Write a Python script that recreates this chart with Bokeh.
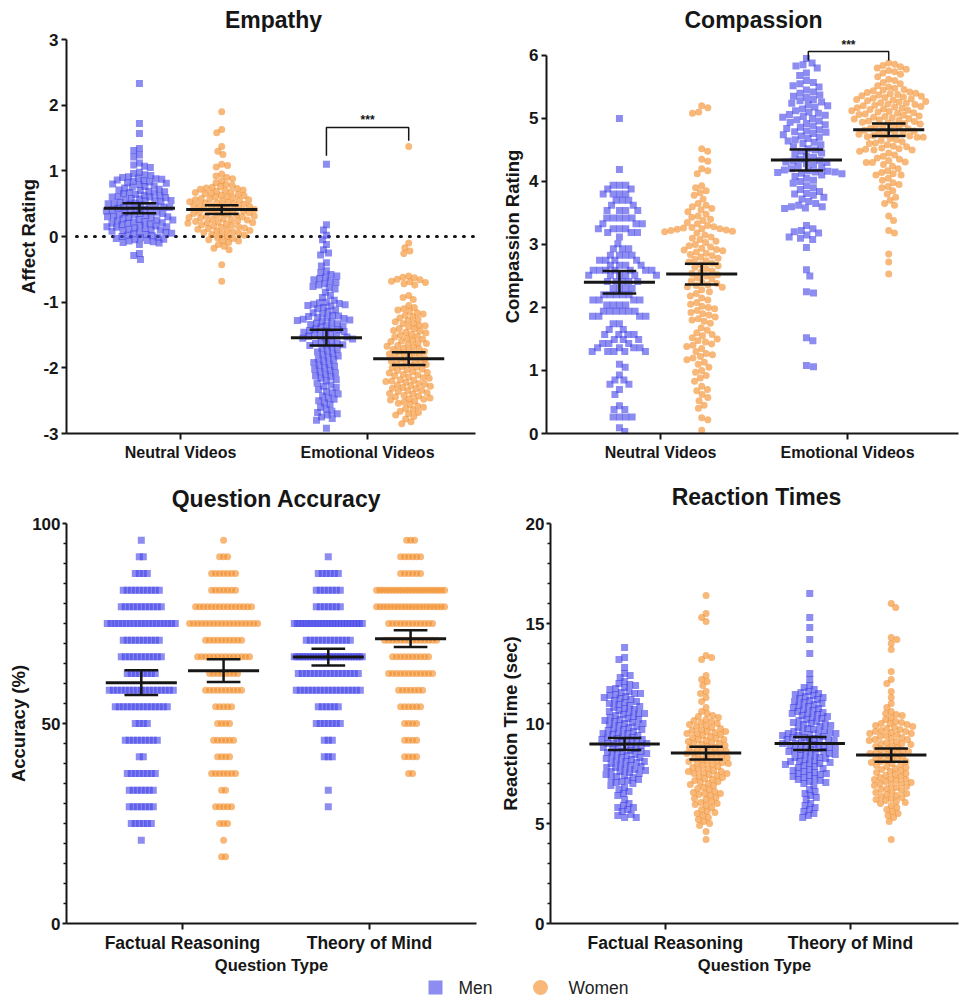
import math
import numpy as np
from bokeh.plotting import figure
from bokeh.layouts import column, row
from bokeh.models import Range1d, FixedTicker
from bokeh.embed import file_html
from bokeh.resources import INLINE
from bokeh.core.properties import value

FONT = "Liberation Sans"
INK = "#161616"
MEN_FILL = "#4646e8"
WOMEN_FILL = "#f28c28"
ALPHA = 0.62

video_labels = ["Neutral Videos", "Emotional Videos"]
question_labels = ["Factual Reasoning", "Theory of Mind"]
legend_labels = ["Men", "Women"]
panel_titles = ["Empathy", "Compassion", "Question Accuracy", "Reaction Times"]
emp_yticks = [-3, -2, -1, 0, 1, 2, 3]
comp_yticks = [0, 1, 2, 3, 4, 5, 6]
acc_yticks = [0, 50, 100]
rt_yticks = [0, 5, 10, 15, 20]

# ---------------- Empathy (Affect Rating) ----------------
emp_neu_men = [2.33, 1.72, 1.57, 1.34, 1.31, 1.24, 1.21, 1.12, 1.09, 1.07, 1.05,
               0.98, 0.96, 0.94, 0.93, 0.91, 0.90,
               0.89, 0.88, 0.87, 0.86, 0.85, 0.84, 0.83, 0.82, 0.81, 0.80,
               0.79, 0.77, 0.76, 0.75, 0.74, 0.72, 0.71, 0.70, 0.69, 0.68, 0.67, 0.66, 0.65, 0.64, 0.63, 0.62, 0.61, 0.60, 0.60,
               0.59, 0.58, 0.57, 0.56, 0.55, 0.55, 0.54, 0.53, 0.52, 0.51, 0.50, 0.50, 0.49, 0.48, 0.47, 0.46, 0.45, 0.45, 0.44, 0.43, 0.42, 0.41, 0.40, 0.40,
               0.39, 0.38, 0.37, 0.36, 0.35, 0.35, 0.34, 0.33, 0.32, 0.31, 0.30, 0.30, 0.29, 0.28, 0.27, 0.26, 0.25, 0.25, 0.24, 0.23, 0.22, 0.21, 0.20, 0.20,
               0.19, 0.18, 0.17, 0.16, 0.15, 0.15, 0.14, 0.13, 0.12, 0.11, 0.10, 0.10, 0.09, 0.08, 0.07, 0.06, 0.05, 0.04, 0.03, 0.02, 0.01, 0.00,
               -0.01, -0.02, -0.03, -0.04, -0.05, -0.06, -0.07, -0.08, -0.09, -0.10,
               -0.12, -0.26, -0.29, -0.35]
emp_neu_women = [1.90, 1.63, 1.58, 1.37, 1.30, 1.25, 1.10, 1.08, 1.06,
                 0.95, 0.92, 0.90, 0.88, 0.85, 0.82,
                 0.79, 0.78, 0.76, 0.75, 0.74, 0.73, 0.72, 0.71, 0.70, 0.69, 0.68, 0.67, 0.66, 0.65, 0.64, 0.63, 0.62, 0.61,
                 0.60, 0.59, 0.58, 0.57, 0.56, 0.56, 0.55, 0.54, 0.53, 0.52, 0.51, 0.51, 0.50, 0.49, 0.48, 0.47, 0.46, 0.46, 0.45, 0.44, 0.43, 0.42, 0.41, 0.41, 0.40,
                 0.39, 0.38, 0.37, 0.36, 0.36, 0.35, 0.34, 0.33, 0.32, 0.31, 0.31, 0.30, 0.29, 0.28, 0.27, 0.26, 0.26, 0.25, 0.24, 0.23, 0.22, 0.21, 0.21, 0.20,
                 0.19, 0.18, 0.17, 0.16, 0.15, 0.14, 0.13, 0.12, 0.11, 0.10, 0.09, 0.08, 0.07, 0.06, 0.05, 0.04, 0.03, 0.02,
                 0.00, -0.02, -0.03, -0.05, -0.06, -0.07, -0.09,
                 -0.12, -0.15, -0.18, -0.20, -0.43, -0.68]
emp_emo_men = [1.10, 0.18, 0.10, 0.02, -0.05, -0.12, -0.20, -0.25, -0.28, -0.40,
               -0.45, -0.52, -0.55, -0.58, -0.60, -0.62, -0.64, -0.66, -0.68, -0.70, -0.72, -0.74, -0.76, -0.78, -0.80,
               -0.85, -0.90, -0.93, -0.97,
               -1.00, -1.01, -1.02, -1.03, -1.04, -1.05, -1.06, -1.08, -1.10, -1.12, -1.14, -1.16, -1.18, -1.20,
               -1.21, -1.22, -1.23, -1.24, -1.25, -1.26, -1.27, -1.28, -1.29, -1.30, -1.32, -1.33, -1.34, -1.35, -1.36, -1.38, -1.40, -1.41, -1.42, -1.43, -1.44, -1.45, -1.46, -1.48, -1.49,
               -1.50, -1.51, -1.52, -1.53, -1.54, -1.55, -1.56, -1.58, -1.60, -1.62, -1.63, -1.64, -1.65, -1.66, -1.68, -1.70, -1.72, -1.74, -1.76, -1.78,
               -1.80, -1.82, -1.84, -1.86, -1.88, -1.90, -1.92, -1.94, -1.96, -1.98, -2.00, -2.02, -2.04, -2.06, -2.08, -2.10,
               -2.12, -2.14, -2.16, -2.18, -2.20, -2.23, -2.26, -2.28, -2.30, -2.33, -2.36, -2.38, -2.40,
               -2.43, -2.46, -2.48, -2.50, -2.53, -2.56, -2.60, -2.63, -2.66, -2.68, -2.70,
               -2.72, -2.75, -2.77, -2.80, -2.92]
emp_emo_women = [1.37, -0.10, -0.17, -0.22, -0.26,
                 -0.60, -0.62, -0.63, -0.65, -0.66, -0.68, -0.69, -0.70, -0.72, -0.74,
                 -0.90, -0.93, -0.96,
                 -1.05, -1.08, -1.10, -1.12, -1.14, -1.16, -1.18, -1.20, -1.22, -1.24, -1.26, -1.28,
                 -1.30, -1.32, -1.33, -1.35, -1.36, -1.38, -1.40, -1.41, -1.43, -1.44, -1.46, -1.47, -1.49, -1.50, -1.52, -1.53, -1.55, -1.56, -1.58, -1.59,
                 -1.60, -1.62, -1.63, -1.64, -1.66, -1.67, -1.68, -1.70, -1.71, -1.72, -1.74, -1.75, -1.76, -1.78, -1.79, -1.80, -1.82, -1.83, -1.84, -1.86, -1.87, -1.89,
                 -1.90, -1.91, -1.92, -1.94, -1.95, -1.96, -1.98, -1.99, -2.00, -2.02, -2.03, -2.04, -2.06, -2.07, -2.08, -2.10, -2.11, -2.12, -2.14, -2.15, -2.16, -2.18, -2.19,
                 -2.20, -2.21, -2.22, -2.24, -2.25, -2.26, -2.27, -2.28, -2.30, -2.31, -2.32, -2.34, -2.35, -2.36, -2.38, -2.39, -2.40, -2.42, -2.43, -2.44, -2.46, -2.47, -2.48, -2.49,
                 -2.50, -2.52, -2.54, -2.56, -2.58, -2.60, -2.62, -2.64, -2.66, -2.68, -2.70, -2.72, -2.74,
                 -2.78, -2.82, -2.85]
emp_means_men = [0.43, -1.54]
emp_sems_men = [0.077, 0.12]
emp_means_women = [0.41, -1.86]
emp_sems_women = [0.066, 0.097]

# ---------------- Compassion ----------------
comp_neu_men = [5.00, 4.19,
                3.94, 3.94, 3.94, 3.88, 3.88, 3.80, 3.80, 3.80, 3.80, 3.70, 3.70, 3.70,
                3.62, 3.62, 3.54, 3.54, 3.54, 3.54, 3.42, 3.42, 3.42, 3.42, 3.42,
                3.33, 3.33, 3.33, 3.25, 3.25, 3.25, 3.25, 3.19, 3.19, 3.19, 3.12, 3.01,
                2.93, 2.93, 2.93, 2.83, 2.83, 2.83, 2.83, 2.75, 2.75, 2.75, 2.75,
                2.67, 2.67, 2.67, 2.67, 2.59, 2.59, 2.59, 2.59, 2.59, 2.59, 2.59,
                2.51, 2.51, 2.51, 2.51, 2.51, 2.51, 2.41, 2.41, 2.41, 2.41, 2.41,
                2.30, 2.30, 2.30, 2.30, 2.20, 2.20, 2.20, 2.20, 2.20, 2.12, 2.12, 2.12, 2.12,
                2.04, 2.04, 2.04, 2.04, 1.94, 1.94, 1.94, 1.94, 1.94, 1.94, 1.86, 1.86, 1.86, 1.86,
                1.74, 1.74, 1.65, 1.65, 1.57, 1.57, 1.57, 1.57, 1.49, 1.49, 1.49, 1.43, 1.43, 1.43,
                1.36, 1.36, 1.36, 1.36, 1.30, 1.30, 1.30, 1.30, 1.30,
                1.10, 1.05, 0.93, 0.85, 0.85, 0.78, 0.78, 0.70, 0.62,
                0.44, 0.38, 0.38, 0.26, 0.26, 0.26, 0.26, 0.09, 0.03]
comp_neu_women = [5.20, 5.17, 5.10, 5.08,
                  4.52, 4.48, 4.35, 4.32, 4.20, 4.17, 4.12,
                  3.93, 3.90, 3.85, 3.82,
                  3.78, 3.72, 3.65, 3.62, 3.60, 3.57, 3.55, 3.52,
                  3.48, 3.45, 3.43, 3.40, 3.38, 3.35, 3.33, 3.30, 3.28, 3.27, 3.26, 3.25, 3.25, 3.24, 3.23, 3.22, 3.21, 3.20,
                  3.18, 3.15, 3.12, 3.10, 3.08, 3.05, 3.03, 3.00, 2.98, 2.96, 2.94, 2.92, 2.91, 2.90,
                  2.88, 2.86, 2.84, 2.82, 2.80, 2.78, 2.76, 2.74, 2.72, 2.70, 2.68, 2.66, 2.64, 2.62,
                  2.58, 2.56, 2.54, 2.52, 2.50, 2.47, 2.45, 2.42, 2.40, 2.38, 2.36, 2.35, 2.33, 2.32,
                  2.28, 2.25, 2.22, 2.18, 2.15, 2.12, 2.08, 2.05, 2.02, 2.00,
                  1.98, 1.95, 1.92, 1.90, 1.88, 1.85, 1.82, 1.80, 1.78, 1.75,
                  1.68, 1.64, 1.60, 1.57, 1.55, 1.52, 1.50, 1.47, 1.45, 1.42, 1.40, 1.38,
                  1.35, 1.30, 1.27, 1.25, 1.22, 1.20, 1.17, 1.13, 1.10,
                  1.05, 1.00, 0.97, 0.92, 0.88, 0.83,
                  0.75, 0.70, 0.68, 0.62, 0.57, 0.52,
                  0.45, 0.40, 0.25, 0.22,
                  0.05]
comp_emo_men = [5.95, 5.88, 5.85, 5.83, 5.80,
                5.72, 5.68, 5.60, 5.57, 5.55, 5.52, 5.50,
                5.45, 5.42, 5.40, 5.37, 5.35, 5.33, 5.30, 5.28, 5.26, 5.24, 5.22, 5.20,
                5.18, 5.15, 5.12, 5.10, 5.08, 5.06, 5.05, 5.03, 5.02, 5.00, 4.98, 4.96, 4.94, 4.92, 4.90,
                4.88, 4.86, 4.84, 4.82, 4.80, 4.79, 4.78, 4.76, 4.74, 4.72, 4.70, 4.68, 4.66, 4.64, 4.62, 4.60,
                4.58, 4.55, 4.52, 4.50, 4.48, 4.45, 4.43, 4.40, 4.38, 4.35, 4.33, 4.32, 4.31, 4.30,
                4.28, 4.26, 4.24, 4.22, 4.20, 4.18, 4.17, 4.16, 4.15, 4.15, 4.14, 4.13, 4.12, 4.10,
                4.08, 4.05, 4.02, 4.00, 3.97, 3.93, 3.90, 3.87, 3.84, 3.81, 3.80,
                3.78, 3.75, 3.72, 3.68, 3.65, 3.62, 3.60, 3.60, 3.58, 3.57,
                3.30, 3.25, 3.22, 3.20, 3.18, 3.15, 3.12, 3.10, 3.08,
                2.95, 2.60, 2.50, 2.25, 2.23, 1.52, 1.47, 1.08, 1.06]
comp_emo_women = [5.88, 5.86, 5.84, 5.82, 5.80, 5.78, 5.76, 5.74, 5.72, 5.70,
                  5.66, 5.62, 5.60, 5.57, 5.55, 5.52,
                  5.50, 5.48, 5.46, 5.45, 5.44, 5.42, 5.41, 5.40, 5.39, 5.38, 5.37, 5.36, 5.35, 5.34, 5.33, 5.32, 5.31, 5.30,
                  5.29, 5.28, 5.27, 5.26, 5.25, 5.24, 5.23, 5.22, 5.21, 5.20, 5.19, 5.18, 5.17, 5.16, 5.15, 5.14, 5.13, 5.12, 5.11, 5.10,
                  5.09, 5.08, 5.07, 5.06, 5.05, 5.04, 5.03, 5.02, 5.01, 5.00, 4.99, 4.98, 4.97, 4.96, 4.95, 4.94, 4.93, 4.92, 4.91, 4.90,
                  4.89, 4.87, 4.85, 4.84, 4.83, 4.82, 4.81, 4.80, 4.78, 4.77, 4.76, 4.75, 4.74, 4.73, 4.72, 4.71, 4.70, 4.70,
                  4.68, 4.66, 4.65, 4.63, 4.61, 4.60, 4.58, 4.56, 4.55, 4.53, 4.52, 4.51, 4.50, 4.50,
                  4.48, 4.45, 4.42, 4.40, 4.37, 4.35, 4.33, 4.31, 4.30, 4.30,
                  4.27, 4.24, 4.20, 4.17, 4.14, 4.12, 4.10, 4.10,
                  4.05, 4.02, 3.98, 3.95, 3.92, 3.90,
                  3.85, 3.80, 3.75, 3.70, 3.65, 3.62,
                  3.45, 3.38, 3.22, 3.18,
                  2.85, 2.72, 2.53]
comp_means_men = [2.40, 4.34]
comp_sems_men = [0.18, 0.165]
comp_means_women = [2.53, 4.82]
comp_sems_women = [0.165, 0.10]

# ---------------- Question Accuracy (24 questions -> discrete levels) ----------------
acc_levels = [95.8, 91.7, 87.5, 83.3, 79.2, 75.0, 70.8, 66.7, 62.5, 58.3,
              54.2, 50.0, 45.8, 41.7, 37.5, 33.3, 29.2, 25.0, 20.8, 16.7]
acc_fr_men_counts = [1, 2, 4, 10, 11, 19, 10, 11, 8, 17, 14, 4, 9, 2, 8, 7, 7, 6, 1, 0]
acc_fr_women_counts = [1, 3, 7, 7, 15, 18, 10, 14, 8, 10, 5, 4, 6, 4, 7, 2, 5, 3, 1, 2]
acc_tom_men_counts = [0, 1, 6, 7, 7, 24, 12, 26, 16, 17, 6, 7, 3, 3, 0, 1, 1, 0, 0, 0]
acc_tom_women_counts = [3, 6, 6, 22, 20, 12, 14, 10, 12, 7, 6, 4, 4, 4, 2, 0, 0, 0, 0, 0]
acc_means_men = [60.2, 66.6]
acc_sems_men = [3.1, 2.1]
acc_means_women = [63.2, 71.2]
acc_sems_women = [2.85, 2.1]

# ---------------- Reaction Times ----------------
rt_fr_men = [13.8, 13.3, 13.2, 12.8, 12.5, 12.4,
             12.3, 12.1, 12.0, 11.95,
             11.9, 11.8, 11.75, 11.7, 11.6, 11.55, 11.5, 11.5,
             11.45, 11.4, 11.35, 11.3, 11.25, 11.2, 11.15, 11.1, 11.05, 11.0,
             10.95, 10.9, 10.85, 10.8, 10.75, 10.7, 10.65, 10.6, 10.55, 10.5, 10.5,
             10.45, 10.4, 10.35, 10.3, 10.25, 10.2, 10.2, 10.15, 10.1, 10.05, 10.0, 10.0,
             9.95, 9.9, 9.85, 9.8, 9.75, 9.7, 9.7, 9.65, 9.6, 9.55, 9.5, 9.5,
             9.45, 9.4, 9.35, 9.3, 9.3, 9.25, 9.2, 9.2, 9.15, 9.1, 9.05, 9.0, 9.0, 9.0,
             8.95, 8.9, 8.85, 8.8, 8.8, 8.75, 8.7, 8.65, 8.6, 8.6, 8.55, 8.5, 8.5,
             8.45, 8.4, 8.35, 8.3, 8.3, 8.25, 8.2, 8.15, 8.1, 8.1, 8.05, 8.0,
             7.95, 7.9, 7.85, 7.8, 7.8, 7.75, 7.7, 7.65, 7.6, 7.6, 7.55, 7.5,
             7.45, 7.4, 7.35, 7.3, 7.25, 7.2, 7.15, 7.1, 7.05, 7.0,
             6.9, 6.8, 6.7, 6.6, 6.5,
             6.4, 6.2, 6.0,
             5.9, 5.8, 5.8, 5.7, 5.6,
             5.45, 5.4, 5.3, 5.3]
rt_fr_women = [16.4, 15.5, 15.3, 15.1,
               13.4, 13.3, 13.2, 12.4, 12.2, 12.1,
               11.9, 11.6, 11.5,
               11.3, 11.1,
               10.8, 10.6, 10.5,
               10.4, 10.35, 10.3, 10.2, 10.15, 10.1, 10.05, 10.0,
               9.95, 9.9, 9.85, 9.8, 9.75, 9.7, 9.65, 9.6, 9.6, 9.55, 9.5, 9.5,
               9.45, 9.4, 9.35, 9.3, 9.25, 9.2, 9.2, 9.15, 9.1, 9.05, 9.0, 9.0,
               8.95, 8.9, 8.85, 8.8, 8.8, 8.75, 8.7, 8.65, 8.6, 8.6, 8.55, 8.5, 8.5,
               8.45, 8.4, 8.35, 8.3, 8.3, 8.25, 8.2, 8.15, 8.1, 8.1, 8.05, 8.0, 8.0,
               7.95, 7.9, 7.85, 7.8, 7.75, 7.7, 7.65, 7.6, 7.6, 7.55, 7.5, 7.5,
               7.45, 7.4, 7.35, 7.3, 7.25, 7.2, 7.15, 7.1, 7.05, 7.0,
               6.95, 6.9, 6.8, 6.75, 6.7, 6.6, 6.55, 6.5, 6.5,
               6.45, 6.4, 6.3, 6.25, 6.2, 6.1, 6.05, 6.0,
               5.95, 5.9, 5.8, 5.7, 5.6, 5.55, 5.5,
               5.4, 5.3, 5.2, 5.1, 5.0,
               4.9, 4.6, 4.2]
rt_tom_men = [16.5, 15.3, 14.8, 14.2, 13.5,
              12.5, 12.2,
              11.9, 11.8, 11.7, 11.6, 11.55, 11.5,
              11.45, 11.4, 11.35, 11.3, 11.25, 11.2, 11.15, 11.1, 11.05, 11.0,
              10.95, 10.9, 10.85, 10.8, 10.75, 10.7, 10.65, 10.6, 10.55, 10.5, 10.5,
              10.45, 10.4, 10.35, 10.3, 10.25, 10.2, 10.15, 10.1, 10.05, 10.0, 10.0,
              9.95, 9.9, 9.85, 9.8, 9.75, 9.7, 9.65, 9.6, 9.6, 9.55, 9.5, 9.5, 9.5,
              9.45, 9.4, 9.4, 9.35, 9.3, 9.3, 9.25, 9.2, 9.2, 9.15, 9.1, 9.1, 9.05, 9.0, 9.0,
              8.95, 8.9, 8.9, 8.85, 8.8, 8.8, 8.75, 8.7, 8.7, 8.65, 8.6, 8.6, 8.55, 8.5, 8.5,
              8.45, 8.4, 8.35, 8.3, 8.3, 8.25, 8.2, 8.15, 8.1, 8.1, 8.05, 8.0, 8.0,
              7.95, 7.9, 7.85, 7.8, 7.75, 7.7, 7.65, 7.6, 7.55, 7.5, 7.5,
              7.45, 7.4, 7.35, 7.3, 7.25, 7.2, 7.15, 7.1, 7.05, 7.0,
              6.9, 6.7, 6.6, 6.5,
              6.4, 6.3, 6.2, 6.0,
              5.9, 5.8, 5.7, 5.6,
              5.5, 5.4, 5.3]
rt_tom_women = [16.0, 15.8,
                14.3, 14.2, 14.0, 13.7,
                12.6, 12.2, 12.0, 11.6, 11.3, 11.0,
                10.8, 10.6, 10.5,
                10.45, 10.4, 10.3, 10.2, 10.1, 10.05, 10.0, 10.0,
                9.95, 9.9, 9.85, 9.8, 9.75, 9.7, 9.65, 9.6, 9.6, 9.55, 9.5, 9.5,
                9.45, 9.4, 9.35, 9.3, 9.25, 9.2, 9.2, 9.15, 9.1, 9.05, 9.0, 9.0,
                8.95, 8.9, 8.85, 8.8, 8.75, 8.7, 8.65, 8.6, 8.6, 8.55, 8.5, 8.5,
                8.45, 8.4, 8.35, 8.3, 8.25, 8.2, 8.15, 8.1, 8.1, 8.05, 8.0,
                7.95, 7.9, 7.85, 7.8, 7.75, 7.7, 7.65, 7.6, 7.55, 7.5,
                7.45, 7.4, 7.35, 7.3, 7.25, 7.2, 7.2, 7.15, 7.1, 7.05, 7.0, 7.0,
                6.95, 6.9, 6.85, 6.8, 6.75, 6.7, 6.65, 6.6, 6.55, 6.5,
                6.45, 6.4, 6.35, 6.3, 6.25, 6.2, 6.15, 6.1, 6.05, 6.0,
                5.9, 5.8, 5.7, 5.6, 5.5,
                5.4, 5.3, 5.1,
                4.2]
rt_means_men = [8.98, 9.00]
rt_sems_men = [0.30, 0.33]
rt_means_women = [8.52, 8.42]
rt_sems_women = [0.32, 0.33]

# ---------------- layout helpers ----------------
PX_PER_X = 187.0   # horizontal pixels per category unit
GROUP_OFF = 0.22   # men at -0.22, women at +0.22 around category centre


def swarm_offsets(vals, px_per_unit, d=6.0, cap=34.0):
    ys = np.asarray(vals, float) * px_per_unit
    order = np.argsort(-ys, kind="stable")
    xs = np.zeros(len(ys))
    px, py = [], []
    flip = 1.0
    for i in order:
        y = ys[i]
        ivs = []
        cands = [0.0]
        for xj, yj in zip(px, py):
            dy = abs(y - yj)
            if dy < d:
                dx = math.sqrt(d * d - dy * dy)
                ivs.append((xj - dx, xj + dx))
                cands.extend([xj - dx, xj + dx])
        cands.sort(key=lambda c: (round(abs(c), 6), c * flip))
        for c in cands:
            if all(not (a + 1e-7 < c < b - 1e-7) for a, b in ivs):
                xs[i] = c
                break
        flip = -flip
        px.append(xs[i])
        py.append(y)
    m = np.abs(xs).max()
    if m > cap:
        xs *= cap / m
    return xs / PX_PER_X


def row_offsets(levels, counts, sp=4.0, cap=34.0):
    ys, xs = [], []
    for lv, n in zip(levels, counts):
        if n == 0:
            continue
        s = sp if n == 1 else min(sp, 2 * cap / (n - 1))
        for k in range(n):
            ys.append(lv)
            xs.append((k - (n - 1) / 2.0) * s / PX_PER_X)
    return np.array(ys), np.array(xs)


def bare_fig(width, height):
    f = figure(width=width, height=height, x_range=Range1d(0, width), y_range=Range1d(0, height),
               output_backend="svg", toolbar_location=None, x_axis_type=None, y_axis_type=None,
               min_border_left=0, min_border_right=0, min_border_top=0, min_border_bottom=0)
    f.outline_line_color = None
    f.xgrid.visible = False
    f.ygrid.visible = False
    f.background_fill_color = "white"
    f.border_fill_color = "white"
    return f


def title_strip(text, width, height, cx, mid_y):
    t = bare_fig(width, height)
    t.text(x=[cx], y=[mid_y], text=[text], text_align="center", text_baseline="middle",
           text_font=value(FONT), text_font_size="23px", text_font_style="bold", text_color=INK)
    return t


def make_fig(width, height, bl, br, bt, bb, xr, yr):
    p = figure(width=width, height=height, x_range=Range1d(*xr), y_range=Range1d(*yr),
               output_backend="svg", toolbar_location=None,
               min_border_left=bl, min_border_right=br, min_border_top=bt, min_border_bottom=bb)
    p.xgrid.visible = False
    p.ygrid.visible = False
    p.outline_line_color = None
    p.background_fill_color = "white"
    p.border_fill_color = "white"
    return p


def style_axes(p, xlabels, xfont, yticks, ylabel, minor=None, ybounds=None,
               ystand=3, ylstand=3, ytick_out=5, xaxis_label=None):
    xa = p.xaxis[0]
    ya = p.yaxis[0]
    for ax in (xa, ya):
        ax.axis_line_color = INK
        ax.axis_line_width = 2
        ax.major_tick_line_color = INK
        ax.major_tick_line_width = 2
        ax.major_tick_in = 0
        ax.major_label_text_font = FONT
        ax.major_label_text_font_style = "bold"
        ax.major_label_text_color = INK
        ax.axis_label_text_font = FONT
        ax.axis_label_text_font_style = "bold"
        ax.axis_label_text_color = INK
        ax.axis_label_text_font_size = "18.5px"
    xa.ticker = FixedTicker(ticks=[0, 1])
    xa.major_label_overrides = {0: xlabels[0], 1: xlabels[1]}
    xa.major_label_text_font_size = xfont
    xa.major_tick_out = 6
    xa.major_label_standoff = 4
    xa.minor_tick_line_color = None
    if xaxis_label:
        xa.axis_label = xaxis_label
        xa.major_label_standoff = 3
        xa.axis_label_standoff = 0
        xa.axis_label_text_font_size = "16.5px"
    ya.ticker = FixedTicker(ticks=yticks, minor_ticks=minor if minor else [])
    ya.major_label_overrides = {t: str(t) for t in yticks}
    ya.major_label_text_font_size = "17px"
    ya.major_tick_out = ytick_out
    ya.major_label_standoff = ystand
    ya.axis_label = ylabel
    ya.axis_label_standoff = ylstand
    if minor:
        ya.minor_tick_line_color = INK
        ya.minor_tick_line_width = 1.5
        ya.minor_tick_out = 3
        ya.minor_tick_in = 0
    else:
        ya.minor_tick_line_color = None
    if ybounds:
        ya.bounds = ybounds


def draw_groups(p, cat_x, men_sets, women_sets, px_per_unit, d=6.0, cap=34.0):
    for cx, vals in zip(cat_x, men_sets):
        off = swarm_offsets(vals, px_per_unit, d, cap)
        p.scatter(x=cx - GROUP_OFF + off, y=np.asarray(vals, float), marker="square", size=7,
                  fill_color=MEN_FILL, fill_alpha=ALPHA, line_color=None)
    for cx, vals in zip(cat_x, women_sets):
        off = swarm_offsets(vals, px_per_unit, d, cap)
        p.scatter(x=cx + GROUP_OFF + off, y=np.asarray(vals, float), marker="circle", size=7,
                  fill_color=WOMEN_FILL, fill_alpha=ALPHA, line_color=None)


def draw_means(p, xs, means, sems, half_mean=0.19, half_cap=0.09):
    xs = np.asarray(xs, float)
    m = np.asarray(means, float)
    s = np.asarray(sems, float)
    p.segment(x0=xs - half_mean, x1=xs + half_mean, y0=m, y1=m, line_color=INK, line_width=3)
    p.segment(x0=xs, x1=xs, y0=m - s, y1=m + s, line_color=INK, line_width=2.5)
    p.segment(x0=xs - half_cap, x1=xs + half_cap, y0=m + s, y1=m + s, line_color=INK, line_width=2.5)
    p.segment(x0=xs - half_cap, x1=xs + half_cap, y0=m - s, y1=m - s, line_color=INK, line_width=2.5)


def add_bracket(p, x0, x1, y_left, y_right, y_top):
    p.line(x=[x0, x0, x1, x1], y=[y_left, y_top, y_top, y_right], line_color=INK, line_width=1.5)
    p.text(x=[(x0 + x1) / 2], y=[y_top], text=["***"], text_align="center", text_baseline="bottom",
           text_font=value(FONT), text_font_size="12px", text_font_style="bold", text_color=INK)


cats = [0.0, 1.0]
men_x = [c - GROUP_OFF for c in cats]
women_x = [c + GROUP_OFF for c in cats]

# ---------------- title strips ----------------
t1 = title_strip(panel_titles[0], 488, 32, 273, 12.8)
t2 = title_strip(panel_titles[1], 472, 32, 265, 12.5)
t3 = title_strip(panel_titles[2], 496, 36, 276, 17.7)
t4 = title_strip(panel_titles[3], 464, 36, 260, 19.4)

# ---------------- Panel 1: Empathy ----------------
p1 = make_fig(488, 448, 66, 13, 7, 47, (-0.610, -0.610 + 409 / PX_PER_X), (-3, 3))
style_axes(p1, video_labels, "16px", emp_yticks, "Affect Rating", ylstand=1)
p1.line(x=[-0.557, 1.577], y=[0, 0], line_color=INK, line_width=3, line_dash="1 8", line_cap="round")
draw_groups(p1, cats, [emp_neu_men, emp_emo_men], [emp_neu_women, emp_emo_women], 394 / 6.0)
draw_means(p1, men_x, emp_means_men, emp_sems_men)
draw_means(p1, women_x, emp_means_women, emp_sems_women)
add_bracket(p1, 1 - GROUP_OFF, 1 + GROUP_OFF, 1.23, 1.46, 1.66)

# ---------------- Panel 2: Compassion ----------------
p2 = make_fig(472, 448, 58, 2, 4, 47, (-0.610, -0.610 + 412 / PX_PER_X), (0, 397 / 63.5))
style_axes(p2, video_labels, "16px", comp_yticks, "Compassion Rating", ybounds=(0, 6))
draw_groups(p2, cats, [comp_neu_men, comp_emo_men], [comp_neu_women, comp_emo_women], 63.5,
            d=7.2, cap=37.0)
draw_means(p2, men_x, comp_means_men, comp_sems_men)
draw_means(p2, women_x, comp_means_women, comp_sems_women)
add_bracket(p2, 1 - 0.21, 1 + 0.22, 5.92, 5.92, 6.06)

# ---------------- Panel 3: Question Accuracy ----------------
p3 = make_fig(496, 460, 66, 20, 7, 53, (-0.620, -0.620 + 410 / PX_PER_X), (0, 100))
style_axes(p3, question_labels, "17.5px", acc_yticks, "Accuracy (%)",
           minor=[v for v in range(5, 100, 5) if v != 50], ystand=2, ylstand=0, ytick_out=4,
           xaxis_label="Question Type")
for cx, counts, marker, fill in [(men_x[0], acc_fr_men_counts, "square", MEN_FILL),
                                 (men_x[1], acc_tom_men_counts, "square", MEN_FILL),
                                 (women_x[0], acc_fr_women_counts, "circle", WOMEN_FILL),
                                 (women_x[1], acc_tom_women_counts, "circle", WOMEN_FILL)]:
    ys, xs = row_offsets(acc_levels, counts)
    p3.scatter(x=cx + xs, y=ys, marker=marker, size=7, fill_color=fill, fill_alpha=ALPHA, line_color=None)
draw_means(p3, men_x, acc_means_men, acc_sems_men)
draw_means(p3, women_x, acc_means_women, acc_sems_women)

# ---------------- Panel 4: Reaction Times ----------------
p4 = make_fig(464, 460, 50, 2, 7, 53, (-0.620, -0.620 + 412 / PX_PER_X), (0, 20))
style_axes(p4, question_labels, "17.5px", rt_yticks, "Reaction Time (sec)",
           minor=[v for v in range(1, 20) if v % 5 != 0], ystand=2, ylstand=2, ytick_out=4,
           xaxis_label="Question Type")
draw_groups(p4, cats, [rt_fr_men, rt_tom_men], [rt_fr_women, rt_tom_women], 20.0)
draw_means(p4, men_x, rt_means_men, rt_sems_men)
draw_means(p4, women_x, rt_means_women, rt_sems_women)

# ---------------- Legend strip ----------------
leg = bare_fig(960, 20)
leg.scatter(x=[435], y=[9], marker="square", size=14, fill_color=MEN_FILL, fill_alpha=ALPHA, line_color=None)
leg.scatter(x=[540], y=[9], marker="circle", size=15, fill_color=WOMEN_FILL, fill_alpha=ALPHA, line_color=None)
leg.text(x=[458, 568], y=[9, 9], text=legend_labels, text_align="left", text_baseline="middle",
         text_font=value(FONT), text_font_size="17.5px", text_color="#222222")

layout = column(row(t1, t2), row(p1, p2), row(t3, t4), row(p3, p4), leg)
open("out.html", "w").write(file_html(layout, INLINE))
